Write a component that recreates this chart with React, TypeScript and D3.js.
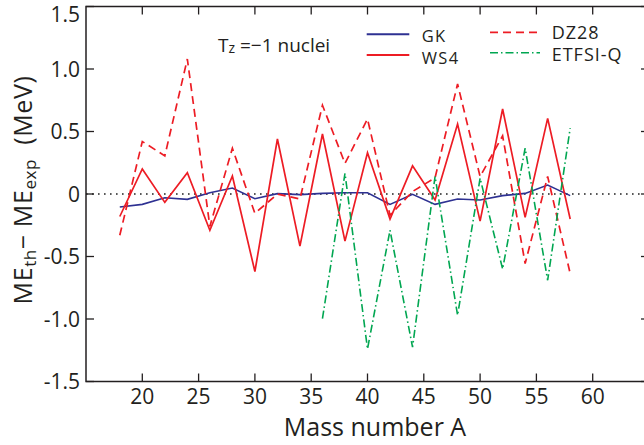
import React from "react";
import * as d3 from "d3";

const massA = [18, 20, 22, 24, 26, 28, 30, 32, 34, 36, 38, 40, 42, 44, 46, 48, 50, 52, 54, 56, 58];
const gk = [-0.104, -0.083, -0.03, -0.043, 0.01, 0.048, -0.038, 0.003, -0.005, 0.005, 0.01, 0.01, -0.083, -0.003, -0.083, -0.04, -0.048, -0.013, 0.005, 0.072, -0.013];
const ws4 = [-0.18, 0.2, -0.067, 0.17, -0.29, 0.144, -0.62, 0.44, -0.417, 0.48, -0.377, 0.33, -0.2, 0.225, -0.048, 0.56, -0.217, 0.68, -0.187, 0.605, -0.2];
const dz28 = [-0.33, 0.42, 0.305, 1.08, -0.26, 0.366, -0.155, 0.0, -0.04, 0.71, 0.245, 0.6, -0.17, 0.02, 0.13, 0.88, 0.14, 0.465, -0.556, 0.14, -0.636];
const massAEtfsi = [36, 38, 40, 42, 44, 46, 48, 50, 52, 54, 56, 58];
const etfsi = [-0.997, 0.166, -1.24, -0.29, -1.225, 0.14, -0.97, 0.126, -0.6, 0.366, -0.69, 0.527];

const xTicks = [20, 25, 30, 35, 40, 45, 50, 55, 60];
const yTicks = [-1.5, -1.0, -0.5, 0, 0.5, 1.0, 1.5];
const yTickLabels = ["-1.5", "-1.0", "-0.5", "0", "0.5", "1.0", "1.5"];

const FONT = "'Open Sans', 'DejaVu Sans', sans-serif";
const AXIS = "#231F20";

export default function App() {
  const W = 644, H = 445;
  const left = 86, right = 649, top = 6.5, bottom = 381.5;
  const x = d3.scaleLinear().domain([15, 65]).range([left, right]);
  const y = d3.scaleLinear().domain([-1.5, 1.5]).range([bottom, top]);
  const line = d3.line<[number, number]>().x(d => x(d[0])).y(d => y(d[1]));
  const pts = (xs: number[], vs: number[]) => xs.map((a, i) => [a, vs[i]] as [number, number]);
  const tl = 8;

  const series = [
    { name: "GK", d: pts(massA, gk), color: "#2E3192", dash: "none", w: 1.6 },
    { name: "DZ28", d: pts(massA, dz28), color: "#ED1C24", dash: "8,5", w: 1.7 },
    { name: "WS4", d: pts(massA, ws4), color: "#ED1C24", dash: "none", w: 1.7 },
    { name: "ETFSI-Q", d: pts(massAEtfsi, etfsi), color: "#00A651", dash: "8,3,1.5,3", w: 1.6 },
  ];

  return (
    <svg width={W} height={H} style={{ position: "absolute", left: 0, top: 0, background: "#fff" }} fontFamily={FONT}>
      {/* zero line */}
      <line x1={left} x2={right} y1={y(0)} y2={y(0)} stroke="#222" strokeWidth={1.6} strokeDasharray="1.6,4.4" />
      {/* data */}
      {series.map(s => (
        <path key={s.name} d={line(s.d) || ""} fill="none" stroke={s.color} strokeWidth={s.w}
          strokeDasharray={s.dash === "none" ? undefined : s.dash} strokeLinejoin="miter" />
      ))}
      {/* frame */}
      <rect x={left} y={top} width={right - left} height={bottom - top} fill="none" stroke={AXIS} strokeWidth={1.5} />
      {/* x ticks */}
      {xTicks.map(t => (
        <g key={"x" + t}>
          <line x1={x(t)} x2={x(t)} y1={bottom} y2={bottom - tl} stroke={AXIS} strokeWidth={1.3} />
          <line x1={x(t)} x2={x(t)} y1={top} y2={top + tl} stroke={AXIS} strokeWidth={1.3} />
          <text x={x(t)} y={404} textAnchor="middle" fontSize={21} fill={AXIS}>{t}</text>
        </g>
      ))}
      {/* y ticks */}
      {yTicks.map((t, i) => (
        <g key={"y" + t}>
          <line x1={left} x2={left + tl} y1={y(t)} y2={y(t)} stroke={AXIS} strokeWidth={1.3} />
          <line x1={right} x2={right - tl} y1={y(t)} y2={y(t)} stroke={AXIS} strokeWidth={1.3} />
          <text x={80} y={Math.max(y(t), 14) + 7.5} textAnchor="end" fontSize={21} fill={AXIS}>{yTickLabels[i]}</text>
        </g>
      ))}
      {/* axis titles */}
      <text x={375} y={435.5} textAnchor="middle" fontSize={25} fill={AXIS}>Mass number A</text>
      <text transform={`translate(32, 190) rotate(-90)`} textAnchor="middle" fontSize={25} fill={AXIS} letterSpacing={0.6} style={{ whiteSpace: "pre" }}>
        <tspan>ME</tspan>
        <tspan fontSize={17} dy={4}>th</tspan>
        <tspan dy={-4}>{"\u2212 ME"}</tspan>
        <tspan fontSize={17} dy={4}>exp</tspan>
        <tspan dy={-4}>{"  (MeV)"}</tspan>
      </text>
      {/* annotation */}
      <text x={218} y={52.3} fontSize={19} fill={AXIS} style={{ whiteSpace: "pre" }}>
        <tspan>T</tspan>
        <tspan fontSize={14} dy={1}>z</tspan>
        <tspan dy={-1}>{" =\u22121 nuclei"}</tspan>
      </text>
      {/* legend */}
      <line x1={366.7} x2={409.3} y1={34.3} y2={34.3} stroke="#2E3192" strokeWidth={2} />
      <text x={421.7} y={42} fontSize={16.5} fill={AXIS} letterSpacing={1.4}>GK</text>
      <line x1={366.7} x2={409.3} y1={55} y2={55} stroke="#ED1C24" strokeWidth={2} />
      <text x={421.7} y={64} fontSize={16.5} fill={AXIS} letterSpacing={1.4}>WS4</text>
      <line x1={490} x2={540} y1={32.3} y2={32.3} stroke="#ED1C24" strokeWidth={1.7} strokeDasharray="8,5" />
      <text x={551.7} y={39.3} fontSize={18} fill={AXIS} letterSpacing={1}>DZ28</text>
      <line x1={490} x2={540} y1={52.7} y2={52.7} stroke="#00A651" strokeWidth={1.6} strokeDasharray="8,3,1.5,3" />
      <text x={551.7} y={61} fontSize={18} fill={AXIS} letterSpacing={1}>ETFSI-Q</text>
    </svg>
  );
}
